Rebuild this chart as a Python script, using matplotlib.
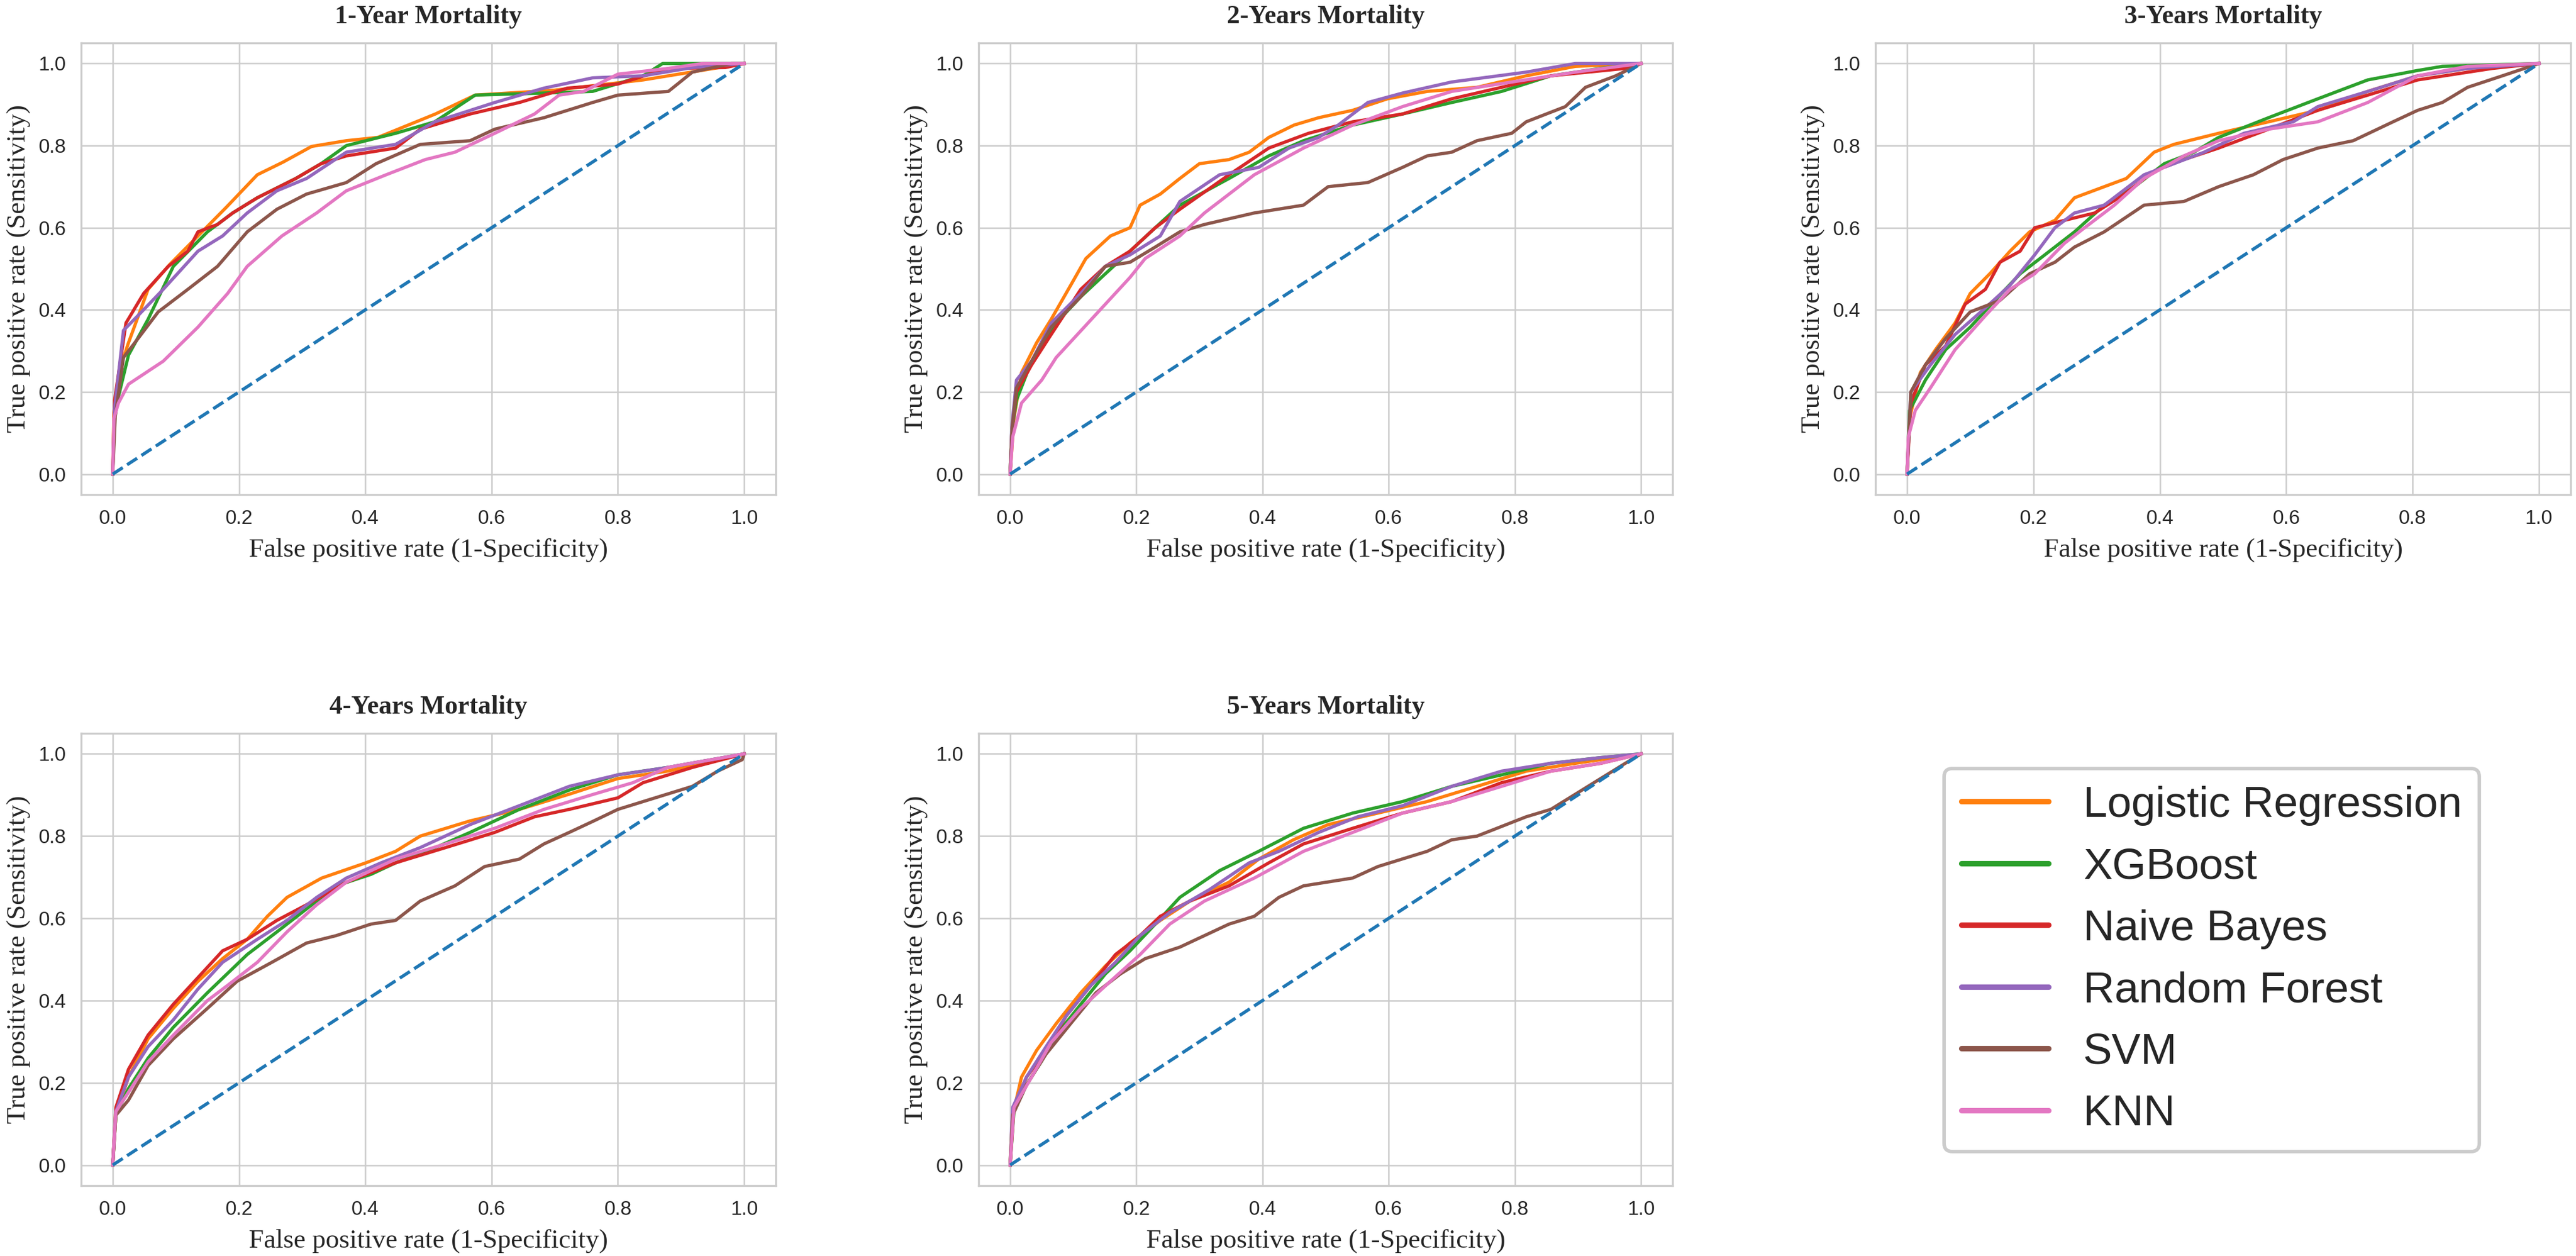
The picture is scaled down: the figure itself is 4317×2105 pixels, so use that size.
import matplotlib
matplotlib.use("Agg")
import matplotlib.pyplot as plt
from matplotlib.lines import Line2D

# ---------------- data ----------------
models = ["Logistic Regression", "XGBoost", "Naive Bayes", "Random Forest", "SVM", "KNN"]
colors = ["#ff7f0e", "#2ca02c", "#d62728", "#9467bd", "#8c564b", "#e377c2"]
titles = ["1-Year Mortality", "2-Years Mortality", "3-Years Mortality",
          "4-Years Mortality", "5-Years Mortality"]
tick_vals = [0.0, 0.2, 0.4, 0.6, 0.8, 1.0]
tick_labels = ["0.0", "0.2", "0.4", "0.6", "0.8", "1.0"]

# ---- 1-Year ----
y1_lr_fpr = [0, 0.002, 0.01, 0.025, 0.056, 0.09, 0.135, 0.18, 0.229, 0.27, 0.315, 0.37, 0.42, 0.511, 0.574, 0.70, 0.84, 0.92, 1.0]
y1_lr_tpr = [0, 0.15, 0.25, 0.32, 0.45, 0.51, 0.58, 0.65, 0.729, 0.76, 0.798, 0.812, 0.82, 0.877, 0.923, 0.935, 0.96, 0.98, 1.0]
y1_xgb_fpr = [0, 0.003, 0.025, 0.056, 0.096, 0.15, 0.19, 0.229, 0.29, 0.33, 0.37, 0.448, 0.51, 0.574, 0.683, 0.76, 0.84, 0.871, 1.0]
y1_xgb_tpr = [0, 0.15, 0.29, 0.377, 0.506, 0.59, 0.636, 0.673, 0.72, 0.756, 0.80, 0.83, 0.858, 0.923, 0.928, 0.932, 0.97, 1.0, 1.0]
y1_nb_fpr = [0, 0.003, 0.021, 0.049, 0.088, 0.119, 0.135, 0.166, 0.19, 0.229, 0.29, 0.33, 0.37, 0.448, 0.487, 0.566, 0.644, 0.72, 0.80, 0.88, 0.97, 1.0]
y1_nb_tpr = [0, 0.18, 0.368, 0.44, 0.506, 0.543, 0.59, 0.608, 0.636, 0.673, 0.72, 0.756, 0.775, 0.794, 0.84, 0.877, 0.905, 0.94, 0.95, 0.988, 0.99, 1.0]
y1_rf_fpr = [0, 0.003, 0.017, 0.04, 0.08, 0.135, 0.174, 0.213, 0.26, 0.307, 0.37, 0.448, 0.51, 0.605, 0.683, 0.76, 0.84, 0.918, 1.0]
y1_rf_tpr = [0, 0.16, 0.35, 0.386, 0.45, 0.543, 0.58, 0.636, 0.69, 0.72, 0.784, 0.803, 0.858, 0.905, 0.94, 0.965, 0.97, 0.99, 1.0]
y1_svm_fpr = [0, 0.004, 0.017, 0.04, 0.072, 0.119, 0.166, 0.213, 0.26, 0.307, 0.37, 0.417, 0.487, 0.566, 0.605, 0.683, 0.76, 0.80, 0.88, 0.918, 0.98, 1.0]
y1_svm_tpr = [0, 0.14, 0.284, 0.33, 0.395, 0.45, 0.506, 0.59, 0.645, 0.682, 0.71, 0.756, 0.803, 0.812, 0.84, 0.868, 0.905, 0.923, 0.932, 0.979, 1.0, 1.0]
y1_knn_fpr = [0, 0.002, 0.009, 0.025, 0.08, 0.135, 0.182, 0.213, 0.268, 0.323, 0.37, 0.433, 0.495, 0.542, 0.605, 0.668, 0.707, 0.746, 0.80, 0.88, 0.934, 1.0]
y1_knn_tpr = [0, 0.136, 0.173, 0.219, 0.275, 0.358, 0.44, 0.506, 0.58, 0.636, 0.69, 0.729, 0.766, 0.784, 0.83, 0.877, 0.923, 0.932, 0.974, 0.988, 1.0, 1.0]

# ---- 2-Years ----
y2_lr_fpr = [0, 0.006, 0.018, 0.042, 0.065, 0.096, 0.12, 0.159, 0.19, 0.206, 0.238, 0.269, 0.30, 0.347, 0.379, 0.41, 0.45, 0.489, 0.543, 0.598, 0.661, 0.74, 0.818, 0.896, 1.0]
y2_lr_tpr = [0, 0.136, 0.247, 0.32, 0.377, 0.46, 0.525, 0.58, 0.60, 0.655, 0.682, 0.72, 0.756, 0.766, 0.784, 0.82, 0.85, 0.868, 0.886, 0.914, 0.932, 0.942, 0.97, 0.993, 1.0]
y2_xgb_fpr = [0, 0.003, 0.01, 0.034, 0.073, 0.112, 0.151, 0.19, 0.23, 0.269, 0.347, 0.41, 0.465, 0.543, 0.622, 0.70, 0.779, 0.857, 0.936, 1.0]
y2_xgb_tpr = [0, 0.11, 0.18, 0.275, 0.368, 0.432, 0.488, 0.543, 0.60, 0.655, 0.72, 0.775, 0.812, 0.85, 0.877, 0.905, 0.932, 0.97, 0.988, 1.0]
y2_nb_fpr = [0, 0.003, 0.01, 0.034, 0.065, 0.112, 0.151, 0.19, 0.23, 0.269, 0.347, 0.41, 0.473, 0.543, 0.622, 0.70, 0.779, 0.857, 0.975, 1.0]
y2_nb_tpr = [0, 0.11, 0.20, 0.266, 0.34, 0.45, 0.506, 0.543, 0.60, 0.645, 0.729, 0.794, 0.83, 0.858, 0.877, 0.914, 0.942, 0.97, 0.988, 1.0]
y2_rf_fpr = [0, 0.003, 0.01, 0.034, 0.065, 0.112, 0.151, 0.19, 0.238, 0.269, 0.332, 0.394, 0.442, 0.489, 0.52, 0.567, 0.622, 0.70, 0.818, 0.896, 1.0]
y2_rf_tpr = [0, 0.12, 0.229, 0.275, 0.368, 0.44, 0.506, 0.534, 0.58, 0.664, 0.729, 0.747, 0.794, 0.82, 0.85, 0.905, 0.928, 0.955, 0.979, 1.0, 1.0]
y2_svm_fpr = [0, 0.003, 0.01, 0.034, 0.065, 0.112, 0.151, 0.19, 0.23, 0.269, 0.308, 0.387, 0.465, 0.504, 0.567, 0.622, 0.661, 0.70, 0.74, 0.795, 0.818, 0.88, 0.912, 0.96, 1.0]
y2_svm_tpr = [0, 0.11, 0.21, 0.275, 0.358, 0.432, 0.506, 0.516, 0.553, 0.59, 0.608, 0.636, 0.655, 0.70, 0.71, 0.747, 0.775, 0.784, 0.812, 0.83, 0.858, 0.895, 0.942, 0.97, 1.0]
y2_knn_fpr = [0, 0.004, 0.018, 0.05, 0.073, 0.112, 0.151, 0.19, 0.214, 0.269, 0.308, 0.387, 0.465, 0.543, 0.622, 0.70, 0.779, 0.896, 1.0]
y2_knn_tpr = [0, 0.09, 0.173, 0.229, 0.284, 0.349, 0.414, 0.479, 0.525, 0.58, 0.636, 0.729, 0.794, 0.85, 0.895, 0.932, 0.951, 0.979, 1.0]

# ---- 3-Years ----
y3_lr_fpr = [0, 0.004, 0.021, 0.045, 0.076, 0.10, 0.131, 0.163, 0.194, 0.234, 0.265, 0.312, 0.347, 0.391, 0.422, 0.493, 0.572, 0.65, 0.729, 0.808, 0.887, 1.0]
y3_lr_tpr = [0, 0.136, 0.247, 0.303, 0.368, 0.44, 0.488, 0.543, 0.59, 0.618, 0.673, 0.70, 0.72, 0.784, 0.803, 0.83, 0.858, 0.886, 0.932, 0.97, 0.988, 1.0]
y3_xgb_fpr = [0, 0.004, 0.029, 0.061, 0.10, 0.139, 0.179, 0.218, 0.265, 0.312, 0.36, 0.407, 0.454, 0.493, 0.572, 0.65, 0.729, 0.808, 0.847, 1.0]
y3_xgb_tpr = [0, 0.155, 0.229, 0.303, 0.358, 0.423, 0.488, 0.534, 0.59, 0.655, 0.70, 0.756, 0.784, 0.82, 0.868, 0.914, 0.96, 0.983, 0.993, 1.0]
y3_nb_fpr = [0, 0.006, 0.029, 0.061, 0.092, 0.124, 0.147, 0.179, 0.202, 0.249, 0.297, 0.344, 0.391, 0.438, 0.493, 0.572, 0.65, 0.729, 0.808, 0.926, 1.0]
y3_nb_tpr = [0, 0.173, 0.266, 0.312, 0.414, 0.45, 0.516, 0.543, 0.60, 0.618, 0.636, 0.682, 0.738, 0.766, 0.794, 0.84, 0.886, 0.923, 0.96, 0.988, 1.0]
y3_rf_fpr = [0, 0.006, 0.037, 0.076, 0.124, 0.163, 0.202, 0.234, 0.265, 0.312, 0.375, 0.422, 0.47, 0.533, 0.611, 0.65, 0.729, 0.808, 0.887, 1.0]
y3_rf_tpr = [0, 0.20, 0.266, 0.34, 0.405, 0.46, 0.534, 0.60, 0.636, 0.655, 0.729, 0.756, 0.784, 0.83, 0.858, 0.895, 0.932, 0.97, 0.988, 1.0]
y3_svm_fpr = [0, 0.006, 0.029, 0.061, 0.10, 0.147, 0.194, 0.234, 0.265, 0.312, 0.375, 0.438, 0.493, 0.548, 0.595, 0.65, 0.706, 0.769, 0.808, 0.847, 0.887, 0.942, 1.0]
y3_svm_tpr = [0, 0.20, 0.266, 0.33, 0.395, 0.423, 0.488, 0.516, 0.553, 0.59, 0.655, 0.664, 0.70, 0.729, 0.766, 0.794, 0.812, 0.858, 0.886, 0.905, 0.942, 0.97, 1.0]
y3_knn_fpr = [0, 0.002, 0.013, 0.037, 0.076, 0.124, 0.163, 0.202, 0.249, 0.281, 0.328, 0.375, 0.438, 0.493, 0.572, 0.65, 0.729, 0.808, 0.887, 1.0]
y3_knn_tpr = [0, 0.09, 0.155, 0.21, 0.303, 0.386, 0.45, 0.488, 0.562, 0.60, 0.655, 0.72, 0.775, 0.812, 0.84, 0.858, 0.905, 0.97, 0.993, 1.0]

# ---- 4-Years ----
y4_lr_fpr = [0, 0.005, 0.025, 0.056, 0.096, 0.135, 0.174, 0.213, 0.245, 0.276, 0.331, 0.401, 0.448, 0.487, 0.566, 0.644, 0.723, 0.80, 0.879, 1.0]
y4_lr_tpr = [0, 0.121, 0.214, 0.307, 0.381, 0.447, 0.502, 0.549, 0.605, 0.651, 0.698, 0.735, 0.763, 0.80, 0.837, 0.865, 0.902, 0.94, 0.958, 1.0]
y4_xgb_fpr = [0, 0.005, 0.025, 0.056, 0.096, 0.15, 0.213, 0.26, 0.307, 0.354, 0.409, 0.448, 0.511, 0.566, 0.644, 0.723, 0.80, 0.879, 1.0]
y4_xgb_tpr = [0, 0.121, 0.186, 0.26, 0.335, 0.419, 0.512, 0.567, 0.623, 0.679, 0.707, 0.735, 0.772, 0.809, 0.865, 0.912, 0.949, 0.967, 1.0]
y4_nb_fpr = [0, 0.005, 0.025, 0.056, 0.096, 0.135, 0.174, 0.213, 0.26, 0.307, 0.37, 0.448, 0.527, 0.605, 0.668, 0.723, 0.80, 0.84, 0.918, 1.0]
y4_nb_tpr = [0, 0.14, 0.233, 0.316, 0.391, 0.456, 0.521, 0.549, 0.595, 0.633, 0.688, 0.735, 0.772, 0.809, 0.847, 0.865, 0.893, 0.93, 0.967, 1.0]
y4_rf_fpr = [0, 0.005, 0.025, 0.056, 0.096, 0.135, 0.174, 0.229, 0.276, 0.323, 0.37, 0.425, 0.487, 0.566, 0.644, 0.723, 0.80, 0.879, 1.0]
y4_rf_tpr = [0, 0.13, 0.214, 0.288, 0.353, 0.428, 0.493, 0.549, 0.595, 0.651, 0.698, 0.735, 0.772, 0.828, 0.874, 0.921, 0.949, 0.967, 1.0]
y4_svm_fpr = [0, 0.005, 0.025, 0.056, 0.096, 0.15, 0.197, 0.252, 0.307, 0.354, 0.409, 0.448, 0.487, 0.542, 0.589, 0.644, 0.683, 0.723, 0.762, 0.80, 0.84, 0.918, 0.958, 0.997, 1.0]
y4_svm_tpr = [0, 0.121, 0.158, 0.242, 0.307, 0.381, 0.447, 0.493, 0.54, 0.558, 0.586, 0.595, 0.642, 0.679, 0.726, 0.744, 0.781, 0.809, 0.837, 0.865, 0.884, 0.921, 0.958, 0.986, 1.0]
y4_knn_fpr = [0, 0.005, 0.025, 0.056, 0.096, 0.15, 0.182, 0.229, 0.276, 0.323, 0.37, 0.448, 0.527, 0.605, 0.683, 0.762, 0.824, 0.879, 1.0]
y4_knn_tpr = [0, 0.13, 0.177, 0.251, 0.316, 0.40, 0.437, 0.493, 0.567, 0.633, 0.688, 0.744, 0.781, 0.819, 0.865, 0.902, 0.93, 0.967, 1.0]

# ---- 5-Years ----
y5_lr_fpr = [0, 0.004, 0.018, 0.042, 0.073, 0.112, 0.151, 0.19, 0.238, 0.285, 0.347, 0.394, 0.449, 0.504, 0.583, 0.661, 0.74, 0.818, 0.896, 1.0]
y5_lr_tpr = [0, 0.121, 0.214, 0.279, 0.344, 0.419, 0.484, 0.54, 0.595, 0.642, 0.688, 0.744, 0.791, 0.828, 0.856, 0.884, 0.921, 0.958, 0.977, 1.0]
y5_xgb_fpr = [0, 0.006, 0.026, 0.049, 0.073, 0.112, 0.151, 0.19, 0.23, 0.269, 0.332, 0.394, 0.465, 0.543, 0.622, 0.70, 0.779, 0.857, 0.936, 1.0]
y5_xgb_tpr = [0, 0.13, 0.195, 0.251, 0.316, 0.391, 0.465, 0.521, 0.586, 0.651, 0.716, 0.763, 0.819, 0.856, 0.884, 0.921, 0.949, 0.977, 0.991, 1.0]
y5_nb_fpr = [0, 0.006, 0.026, 0.057, 0.089, 0.128, 0.167, 0.206, 0.238, 0.285, 0.347, 0.41, 0.465, 0.543, 0.622, 0.70, 0.779, 0.857, 0.936, 1.0]
y5_nb_tpr = [0, 0.14, 0.214, 0.279, 0.363, 0.437, 0.512, 0.558, 0.605, 0.642, 0.679, 0.735, 0.781, 0.819, 0.856, 0.884, 0.93, 0.958, 0.977, 1.0]
y5_rf_fpr = [0, 0.004, 0.026, 0.057, 0.089, 0.128, 0.167, 0.206, 0.253, 0.316, 0.379, 0.426, 0.489, 0.551, 0.622, 0.70, 0.779, 0.857, 0.936, 1.0]
y5_rf_tpr = [0, 0.14, 0.214, 0.288, 0.363, 0.437, 0.493, 0.558, 0.614, 0.67, 0.735, 0.763, 0.809, 0.847, 0.874, 0.921, 0.958, 0.977, 0.991, 1.0]
y5_svm_fpr = [0, 0.004, 0.026, 0.057, 0.096, 0.136, 0.175, 0.214, 0.269, 0.308, 0.347, 0.387, 0.426, 0.465, 0.543, 0.583, 0.661, 0.70, 0.74, 0.818, 0.857, 0.896, 0.936, 0.975, 1.0]
y5_svm_tpr = [0, 0.121, 0.195, 0.27, 0.344, 0.419, 0.465, 0.502, 0.53, 0.558, 0.586, 0.605, 0.651, 0.679, 0.698, 0.726, 0.763, 0.791, 0.80, 0.847, 0.865, 0.902, 0.94, 0.977, 1.0]
y5_knn_fpr = [0, 0.006, 0.034, 0.065, 0.112, 0.159, 0.206, 0.253, 0.308, 0.387, 0.465, 0.543, 0.622, 0.70, 0.779, 0.857, 0.936, 1.0]
y5_knn_tpr = [0, 0.14, 0.214, 0.298, 0.381, 0.447, 0.512, 0.586, 0.642, 0.698, 0.763, 0.809, 0.856, 0.884, 0.921, 0.958, 0.977, 1.0]

panels = [
    [(y1_lr_fpr, y1_lr_tpr), (y1_xgb_fpr, y1_xgb_tpr), (y1_nb_fpr, y1_nb_tpr),
     (y1_rf_fpr, y1_rf_tpr), (y1_svm_fpr, y1_svm_tpr), (y1_knn_fpr, y1_knn_tpr)],
    [(y2_lr_fpr, y2_lr_tpr), (y2_xgb_fpr, y2_xgb_tpr), (y2_nb_fpr, y2_nb_tpr),
     (y2_rf_fpr, y2_rf_tpr), (y2_svm_fpr, y2_svm_tpr), (y2_knn_fpr, y2_knn_tpr)],
    [(y3_lr_fpr, y3_lr_tpr), (y3_xgb_fpr, y3_xgb_tpr), (y3_nb_fpr, y3_nb_tpr),
     (y3_rf_fpr, y3_rf_tpr), (y3_svm_fpr, y3_svm_tpr), (y3_knn_fpr, y3_knn_tpr)],
    [(y4_lr_fpr, y4_lr_tpr), (y4_xgb_fpr, y4_xgb_tpr), (y4_nb_fpr, y4_nb_tpr),
     (y4_rf_fpr, y4_rf_tpr), (y4_svm_fpr, y4_svm_tpr), (y4_knn_fpr, y4_knn_tpr)],
    [(y5_lr_fpr, y5_lr_tpr), (y5_xgb_fpr, y5_xgb_tpr), (y5_nb_fpr, y5_nb_tpr),
     (y5_rf_fpr, y5_rf_tpr), (y5_svm_fpr, y5_svm_tpr), (y5_knn_fpr, y5_knn_tpr)],
]
diag = [0.0, 1.0]

# ---------------- figure ----------------
W, H, DPI = 4317, 2105, 300
fig = plt.figure(figsize=(W / DPI, H / DPI), dpi=DPI)
fig.patch.set_facecolor("white")

col_lr = [(136, 1300), (1640, 2803), (3143, 4308)]
row_tb = [(72, 829), (1229, 1987)]
positions = []
for r in range(2):
    for c in range(3):
        l, rr = col_lr[c]
        t, b = row_tb[r]
        positions.append([l / W, 1 - b / H, (rr - l) / W, (b - t) / H])

serif = "Liberation Serif"
sans = "Liberation Sans"

for i, curves in enumerate(panels):
    ax = fig.add_axes(positions[i])
    ax.set_facecolor("white")
    ax.grid(True, color="0.8", linewidth=0.6)
    ax.set_axisbelow(True)
    for s in ax.spines.values():
        s.set_color("0.8")
        s.set_linewidth(0.8)
    for (fpr, tpr), col in zip(curves, colors):
        ax.plot(fpr, tpr, color=col, linewidth=1.3, solid_joinstyle="round")
    ax.plot(diag, diag, color="#1f77b4", linestyle="--", linewidth=1.3)
    ax.set_xlim(-0.05, 1.05)
    ax.set_ylim(-0.05, 1.05)
    ax.set_xticks(tick_vals)
    ax.set_yticks(tick_vals)
    ax.set_xticklabels(tick_labels, fontfamily=sans, fontsize=8)
    ax.set_yticklabels(tick_labels, fontfamily=sans, fontsize=8)
    ax.tick_params(length=0, pad=6, colors="#262626")
    ax.set_title(titles[i], fontfamily=serif, fontweight="bold", fontsize=10.5,
                 pad=8, color="#262626")
    ax.set_xlabel("False positive rate (1-Specificity)", fontfamily=serif,
                  fontsize=10.8, labelpad=4, color="#262626")
    ax.set_ylabel("True positive rate (Sensitivity)", fontfamily=serif,
                  fontsize=10.8, labelpad=3, color="#262626")

handles = [Line2D([0], [0], color=c, linewidth=2.2, solid_capstyle="round") for c in colors]
leg = fig.legend(handles, models, loc="center", bbox_to_anchor=(0.8586, 0.2356),
                 prop={"family": sans, "size": 17.5}, frameon=True, fancybox=True,
                 edgecolor="0.8", framealpha=1.0)
leg.get_frame().set_linewidth(1.4)
for t in leg.get_texts():
    t.set_color("#262626")

fig.savefig("out.png", dpi=DPI)
